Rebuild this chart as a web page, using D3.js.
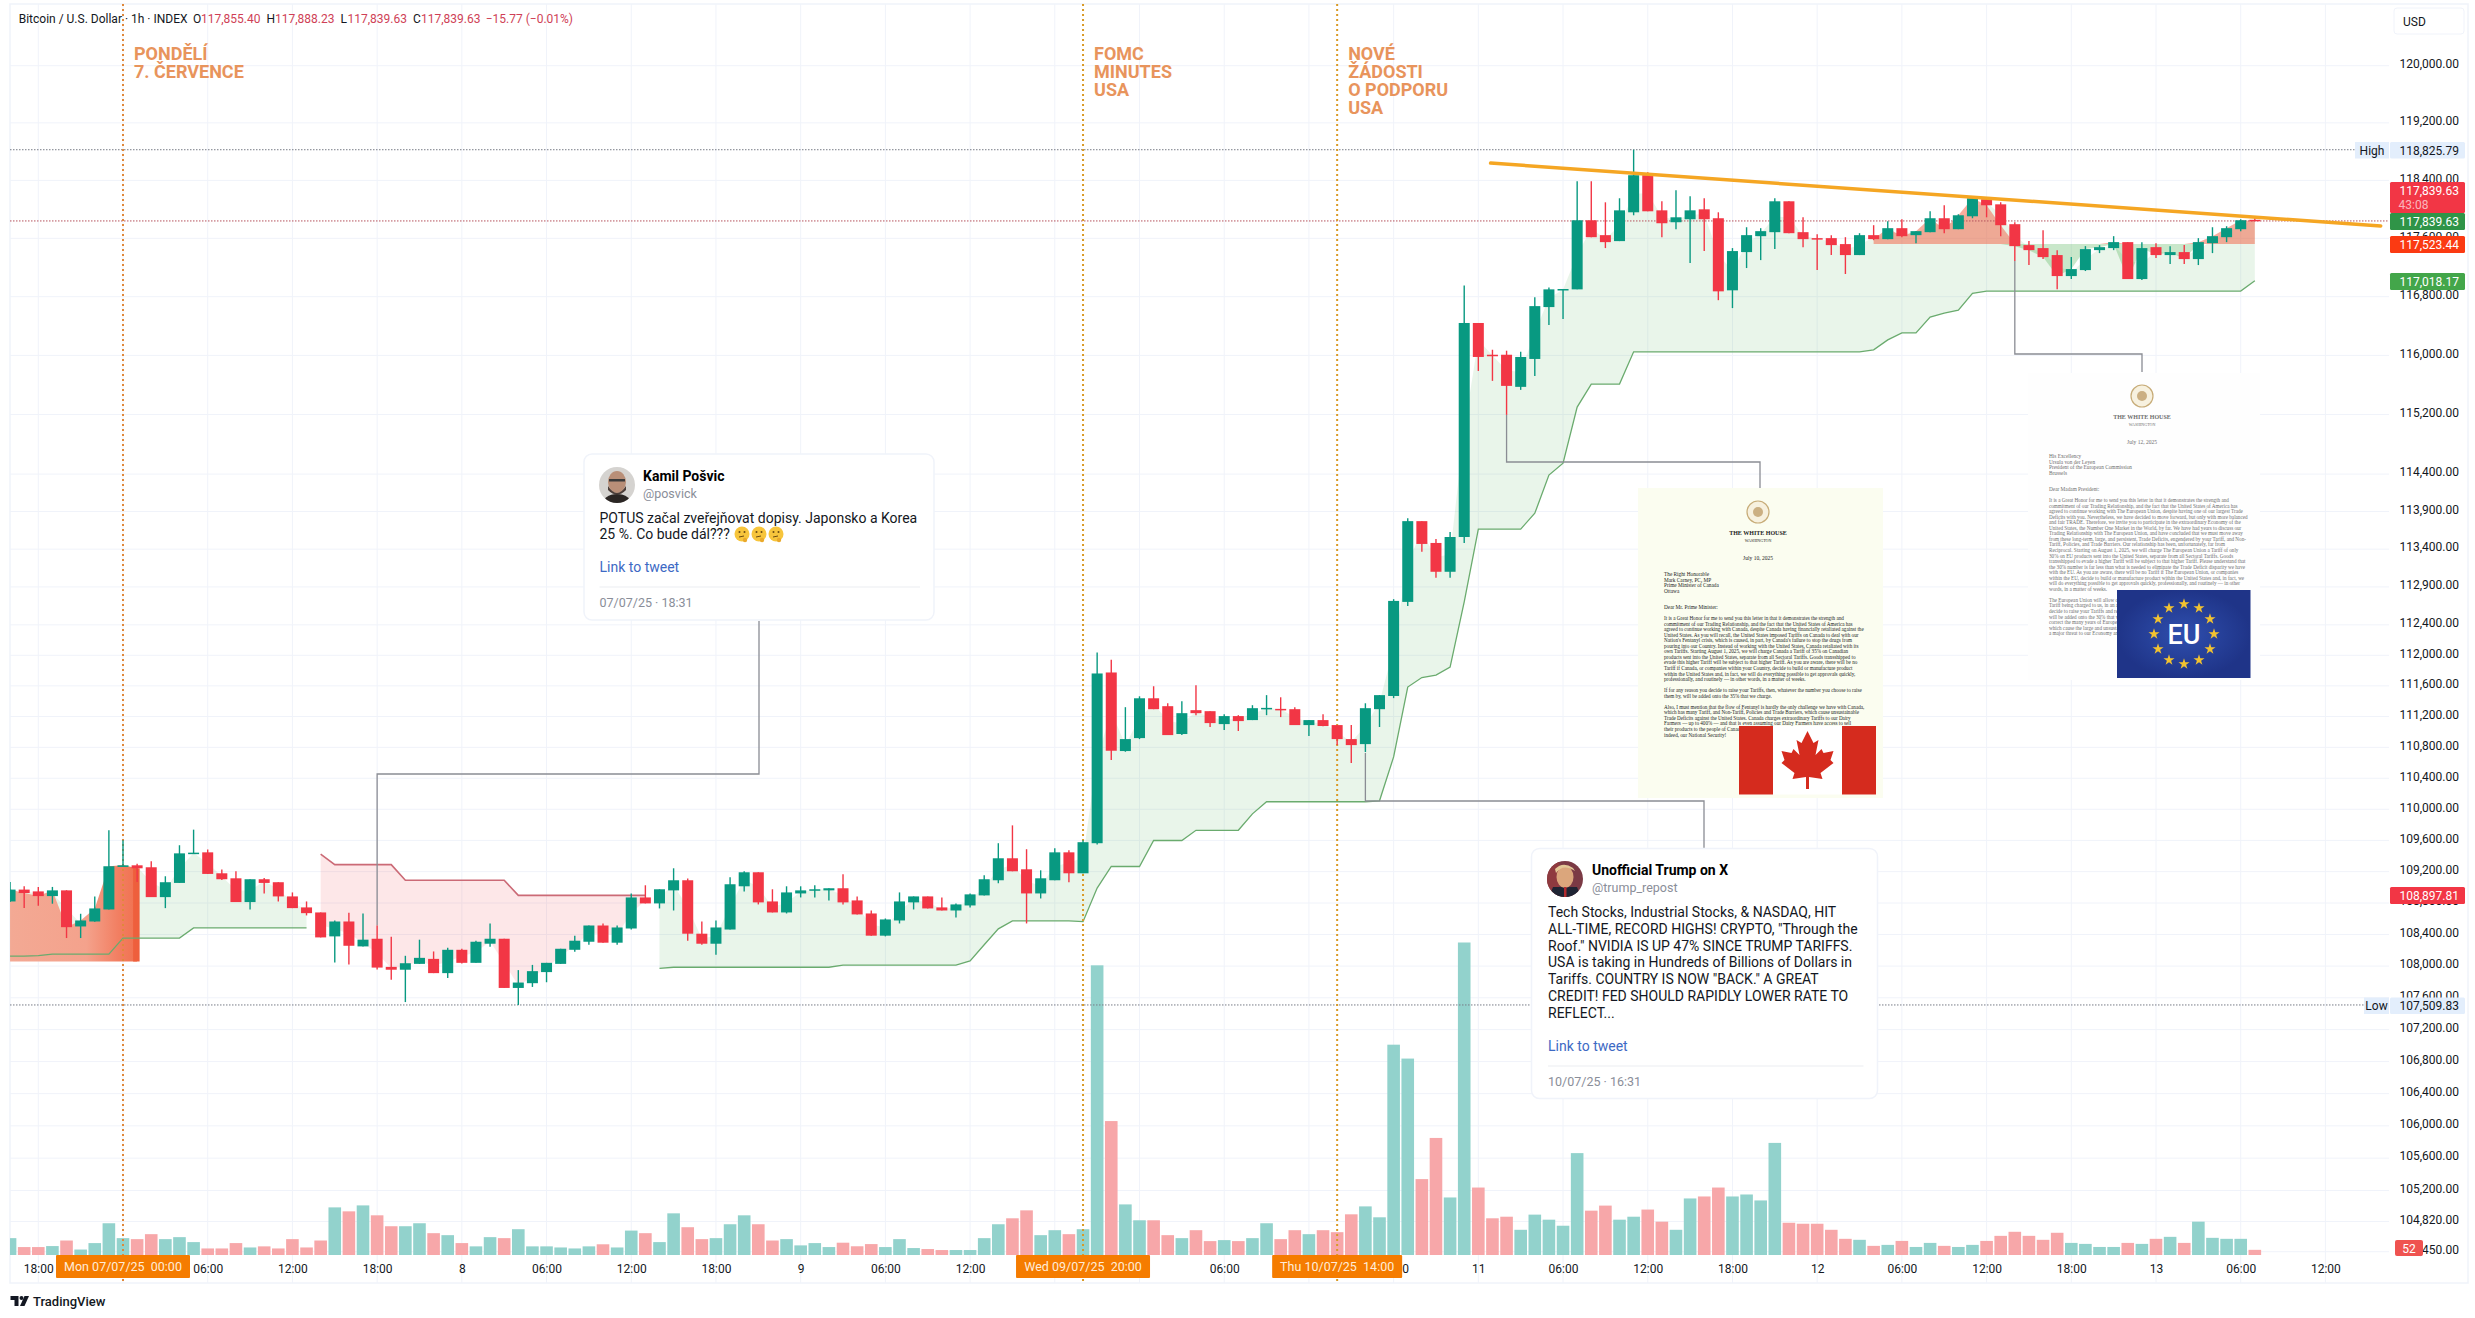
<!DOCTYPE html>
<html>
<head>
<meta charset="utf-8">
<style>
  html, body { margin: 0; padding: 0; background: #ffffff; }
  svg { display: block; }
  text { font-family: Roboto, sans-serif; }
</style>
</head>
<body>
<div id="wrapper"></div>
<script src="https://cdn.jsdelivr.net/npm/d3@7"></script>
<script>
// Bars are hourly, first one is Sun 6 July 16:00 UTC
const firstBar = new Date(Date.UTC(2025, 6, 6, 16))

const opens = [
  108820,108971,108948,108888,108961,108502,108565,108718,109260,109281,
  109256,108875,109056,109434,109447,109179,109115,108812,109103,109065,
  108884,108744,108680,108376,108565,108249,108346,107990,107954,108028,
  108091,107911,108206,108041,108283,108346,107724,107784,107924,108028,
  108206,108308,108514,108296,108476,108871,108795,108961,109090,108410,
  108283,108463,109013,109192,108820,108680,108922,108967,108961,108988,
  108833,108667,108385,108578,108808,108884,108744,108705,108769,108897,
  109090,109371,109230,108922,109090,109447,109179,109564,111775,110752,
  110920,111438,111335,110973,111283,111270,111102,111206,111154,111300,
  111300,111296,111089,111154,111089,110907,110842,111296,111468,112702,
  113772,113482,113100,113561,116441,116009,116009,115574,115952,116658,
  116891,116900,117849,117644,117562,117959,118472,117986,117822,117863,
  118000,117877,116887,117411,117630,117685,118111,117685,117603,117603,
  117521,117370,117644,117589,117740,117644,117685,117877,117726,117904,
  118139,118069,117795,117507,117466,117370,117082,117164,117438,117466,
  117548,117041,117479,117370,117411,117315,117534,117616,117726,117855.40
]
const closes = [
  108971,108927,108888,108961,108493,108578,108731,109269,109281,109243,
  108875,109065,109434,109443,109171,109103,108812,109103,109056,108884,
  108735,108671,108363,108565,108257,108334,107981,107954,108036,108104,
  107911,108206,108041,108308,108346,107724,107792,107936,108041,108219,
  108321,108514,108296,108489,108871,108795,108975,109090,108410,108283,
  108489,109039,109192,108808,108680,108935,108961,108975,108988,108808,
  108655,108385,108591,108820,108884,108731,108705,108782,108910,109103,
  109371,109205,108922,109115,109447,109179,109577,111762,110756,110907,
  111438,111296,110959,111244,111244,111115,111206,111141,111309,111313,
  111287,111089,111154,111077,110907,110829,111309,111479,112715,113772,
  113469,113100,113561,116441,115979,115991,115587,115979,116671,116900,
  116905,117849,117616,117548,117986,118472,117973,117808,117890,117986,
  117863,116873,117425,117644,117699,118111,117671,117589,117589,117507,
  117370,117644,117589,117740,117630,117699,117877,117726,117918,118153,
  118056,117781,117493,117438,117342,117082,117178,117452,117479,117548,
  117041,117466,117370,117411,117315,117548,117630,117740,117849,117839.63
]
const highs = [
  109069,109013,109005,109005,108963,108663,108884,109729,109602,109302,
  109332,109141,109538,109738,109483,109226,109205,109103,109120,109065,
  108935,108820,108680,108578,108676,108667,108514,108372,108130,108334,
  108185,108232,108219,108321,108540,108346,107949,108015,108041,108219,
  108385,108514,108540,108514,108922,109026,108975,109243,109111,108565,
  108578,109128,109205,109192,108975,109013,109013,109026,108988,109167,
  108884,108705,108603,108935,108884,108884,108871,108795,108922,109154,
  109564,109793,109487,109217,109500,109474,109602,112036,111943,111322,
  111464,111595,111373,111399,111608,111270,111231,111218,111348,111479,
  111451,111322,111154,111231,111089,111089,111373,111479,112738,113812,
  113772,113535,113627,116954,116441,116077,116064,116050,116793,116927,
  116905,118389,118389,118097,118153,118825.79,118514,118111,118264,118180,
  118153,117959,117466,117753,117740,118153,118111,117890,117658,117644,
  117616,117671,117781,117836,117863,117699,117973,118056,117932,118180,
  118167,118097,117822,117562,117712,117438,117342,117493,117507,117630,
  117548,117548,117534,117493,117507,117603,117753,117767,117863,117888.23
]
const lows = [
  108813,108735,108765,108791,108355,108355,108563,108718,109260,109069,
  108875,108735,109056,109434,109171,109094,108812,108718,108922,108820,
  108735,108642,108363,108045,108019,108249,107958,107826,107546,108028,
  107911,107851,108032,108041,108245,107724,107509.83,107737,107796,108028,
  108181,108270,108296,108270,108463,108795,108731,108705,108321,108270,
  108143,108463,108948,108782,108680,108667,108871,108871,108833,108782,
  108655,108385,108376,108540,108718,108731,108705,108616,108744,108897,
  109052,109205,108540,108858,109090,109065,109179,109547,110636,110743,
  110907,111296,110959,110959,111218,111064,111025,111012,111154,111218,
  111193,111089,110946,111073,110829,110597,110739,111064,111440,112649,
  113364,113022,113022,113482,115789,115655,115196,115533,115722,116415,
  116495,116900,117616,117466,117562,117918,117973,117616,117726,117260,
  117425,116752,116644,117192,117301,117452,117671,117479,117164,117370,
  117110,117370,117575,117589,117616,117534,117685,117671,117726,117877,
  117890,117630,117288,117233,117315,116900,117041,117151,117397,117438,
  117041,117027,117329,117247,117247,117233,117397,117548,117699,117839.63
]
const volumes = [
  170,80,80,90,146,55,120,320,170,160,
  210,160,180,130,66,66,120,76,87,66,
  160,76,146,480,440,500,400,290,290,320,
  220,200,120,87,180,170,260,87,87,76,
  66,87,108,76,246,220,130,420,280,160,
  170,310,400,310,146,160,97,120,80,124,
  88,110,80,160,70,60,50,50,50,170,
  310,370,450,200,250,210,260,2920,1350,510,
  350,350,200,170,250,140,150,140,170,320,
  160,250,210,250,230,410,490,380,2120,1980,
  765,1180,580,3150,680,370,386,254,407,356,
  295,1027,447,498,356,386,458,336,254,570,
  590,680,590,610,550,1130,325,315,315,254,
  163,153,92,102,142,81,122,92,81,102,
  142,193,234,193,153,224,122,112,81,81,
  122,112,163,183,122,336,173,163,163,52
]

// Supertrend style stop lines, null = not active on that bar
const n = null
const greenBand = [
  108126,108126,108131,108151,108151,108151,108151,108151,108355,108355,
  108355,108355,108355,108484,108484,108484,108484,108484,108484,108484,
  108484,108484,n,n,n,n,n,n,n,n,
  n,n,n,n,n,n,n,n,n,n,
  n,n,n,n,n,n,107972,107985,107985,107985,
  107985,107985,107985,107985,107985,107985,107985,107985,107985,108011,
  108011,108011,108011,108011,108011,108011,108011,108011,108066,108270,
  108472,108573,108573,108573,108573,108573,108563,108991,109266,109266,
  109266,109599,109599,109599,109730,109730,109730,109730,109941,110097,
  110097,110097,110097,110097,110097,110097,110097,110109,110676,111585,
  111709,111741,111845,112702,113666,113666,113666,113666,113877,114387,
  114547,115301,115612,115612,115612,116049,116049,116049,116049,116049,
  116049,116049,116049,116049,116049,116049,116049,116049,116049,116049,
  116049,116049,116076,116211,116305,116305,116522,116576,116616,116846,
  116877,116877,116877,116877,116877,116877,116877,116877,116877,116877,
  116877,116877,116877,116877,116877,116877,116877,116877,116877,117018.17
]
const redBand = [
  n,n,n,n,n,n,n,n,n,n,
  n,n,n,n,n,n,n,n,n,n,
  n,n,109423,109290,109290,109290,109290,109290,109090,109090,
  109090,109090,109090,109090,109090,109090,108897.81,108897.81,108897.81,108897.81,
  108897.81,108897.81,108897.81,108897.81,108897.81,108897.81,n,n,n,n
].concat(new Array(110).fill(n))

// Flat level the salmon / dark green zone is measured against
const leftZoneLevel = 108058
const leftZoneBars = [0, 9]
const rightZoneLevel = 117523.44
const rightZoneBars = [132, 159]

const priceTicks = [
  120000,119200,118400,117600,116800,116000,115200,114400,113900,113400,112900,
  112400,112000,111600,111200,110800,110400,110000,109600,109200,108800,108400,
  108000,107600,107200,106800,106400,106000,105600,105200,104820,104450
]

const eventTimes = [
  new Date(Date.UTC(2025, 6, 7, 0)),
  new Date(Date.UTC(2025, 6, 9, 20)),
  new Date(Date.UTC(2025, 6, 10, 14))
]
const eventLabels = ["Mon 07/07/25\u00a0\u00a000:00", "Wed 09/07/25\u00a0\u00a020:00", "Thu 10/07/25\u00a0\u00a014:00"]
const eventNotes = [
  ["PONDĚLÍ", "7. ČERVENCE"],
  ["FOMC", "MINUTES", "USA"],
  ["NOVÉ", "ŽÁDOSTI", "O PODPORU", "USA"]
]

const highPrice = 118825.79
const lowPrice = 107509.83
const lastPrice = 117839.63

const trendTimes = [new Date(Date.UTC(2025, 6, 11, 0, 52)), new Date(Date.UTC(2025, 6, 13, 15, 55))]
const trendPrices = [118640, 117771]

const kamilLines = ["POTUS začal zveřejňovat dopisy. Japonsko a Korea", "25 %. Co bude dál???"]
const trumpLines = [
  "Tech Stocks, Industrial Stocks, & NASDAQ, HIT",
  "ALL-TIME, RECORD HIGHS! CRYPTO, \"Through the",
  "Roof.\" NVIDIA IS UP 47% SINCE TRUMP TARIFFS.",
  "USA is taking in Hundreds of Billions of Dollars in",
  "Tariffs. COUNTRY IS NOW \"BACK.\" A GREAT",
  "CREDIT! FED SHOULD RAPIDLY LOWER RATE TO",
  "REFLECT..."
]
const canadaAddress = ["The Right Honorable", "Mark Carney, PC, MP", "Prime Minister of Canada", "Ottawa"]
const canadaBody = [
  "It is a Great Honor for me to send you this letter in that it demonstrates the strength and",
  "commitment of our Trading Relationship, and the fact that the United States of America has",
  "agreed to continue working with Canada, despite Canada having financially retaliated against the",
  "United States. As you will recall, the United States imposed Tariffs on Canada to deal with our",
  "Nation's Fentanyl crisis, which is caused, in part, by Canada's failure to stop the drugs from",
  "pouring into our Country. Instead of working with the United States, Canada retaliated with its",
  "own Tariffs. Starting August 1, 2025, we will charge Canada a Tariff of 35% on Canadian",
  "products sent into the United States, separate from all Sectoral Tariffs. Goods transshipped to",
  "evade this higher Tariff will be subject to that higher Tariff. As you are aware, there will be no",
  "Tariff if Canada, or companies within your Country, decide to build or manufacture product",
  "within the United States and, in fact, we will do everything possible to get approvals quickly,",
  "professionally, and routinely — in other words, in a matter of weeks.",
  "",
  "If for any reason you decide to raise your Tariffs, then, whatever the number you choose to raise",
  "them by, will be added onto the 35% that we charge.",
  "",
  "Also, I must mention that the flow of Fentanyl is hardly the only challenge we have with Canada,",
  "which has many Tariff, and Non-Tariff, Policies and Trade Barriers, which cause unsustainable",
  "Trade Deficits against the United States. Canada charges extraordinary Tariffs to our Dairy",
  "Farmers — up to 400% — and that is even assuming our Dairy Farmers have access to sell",
  "their products to the people of Canada. These are a major threat to our Economy and,",
  "indeed, our National Security!"
]
const euAddress = ["His Excellency", "Ursula von der Leyen", "President of the European Commission", "Brussels"]
const euBody = [
  "It is a Great Honor for me to send you this letter in that it demonstrates the strength and",
  "commitment of our Trading Relationship, and the fact that the United States of America has",
  "agreed to continue working with The European Union, despite having one of our largest Trade",
  "Deficits with you. Nevertheless, we have decided to move forward, but only with more balanced",
  "and fair TRADE. Therefore, we invite you to participate in the extraordinary Economy of the",
  "United States, the Number One Market in the World, by far. We have had years to discuss our",
  "Trading Relationship with The European Union, and have concluded that we must move away",
  "from these long-term, large, and persistent, Trade Deficits, engendered by your Tariff, and Non-",
  "Tariff, Policies, and Trade Barriers. Our relationship has been, unfortunately, far from",
  "Reciprocal. Starting on August 1, 2025, we will charge The European Union a Tariff of only",
  "30% on EU products sent into the United States, separate from all Sectoral Tariffs. Goods",
  "transshipped to evade a higher Tariff will be subject to that higher Tariff. Please understand that",
  "the 30% number is far less than what is needed to eliminate the Trade Deficit disparity we have",
  "with the EU. As you are aware, there will be no Tariff if The European Union, or companies",
  "within the EU, decide to build or manufacture product within the United States and, in fact, we",
  "will do everything possible to get approvals quickly, professionally, and routinely — in other",
  "words, in a matter of weeks.",
  "",
  "The European Union will allow complete, open Market Access to the United States, with no",
  "Tariff being charged to us, in an attempt to reduce the large Trade Deficit. If for any reason you",
  "decide to raise your Tariffs and retaliate, then, whatever the number you choose to raise them by,",
  "will be added onto the 30% that we charge. Please understand that these Tariffs are necessary to",
  "correct the many years of European Union Tariff, and Non-Tariff, Policies and Trade Barriers,",
  "which cause the large and unsustainable Trade Deficits against the United States. This Deficit is",
  "a major threat to our Economy and, indeed, our National Security!"
]

function drawChart() {

  const dimensions = {
    width: 2475,
    height: 1318,
    left: 10,
    right: 2389,
    top: 4,
    bottom: 1283,
    axisRight: 2468,
  }
  const green = "#089981"
  const red = "#f23645"
  const gridColor = "#f0f3fa"

  const dataset = opens.map((o, i) => ({
    i,
    time: d3.utcHour.offset(firstBar, i),
    open: o,
    high: highs[i],
    low: lows[i],
    close: closes[i],
    volume: volumes[i],
    mid: (o + closes[i]) / 2,
    green: greenBand[i],
    red: redBand[i],
  }))
  const isUp = d => d.close >= d.open

  const wrapper = d3.select("#wrapper").append("svg")
      .attr("width", dimensions.width)
      .attr("height", dimensions.height)
  wrapper.append("rect")
      .attr("width", dimensions.width)
      .attr("height", dimensions.height)
      .attr("fill", "#ffffff")

  const defs = wrapper.append("defs")
  defs.append("clipPath").attr("id", "plot-clip").append("rect")
      .attr("x", dimensions.left)
      .attr("y", dimensions.top)
      .attr("width", dimensions.right - dimensions.left)
      .attr("height", dimensions.bottom - dimensions.top)

  //Create Scales
  const xScale = d3.scaleUtc()
      .domain([new Date(Date.UTC(2025, 6, 7)), new Date(Date.UTC(2025, 6, 13))])
      .range([123, 2156])
  const yScale = d3.scaleLog()
      .domain([104450, 120000])
      .range([1251.7, 65.7])
  const volumeScale = d3.scaleLinear()
      .domain([0, 3150])
      .range([1255, 942.5])

  //Grid
  const timeTicks = d3.utcHour.every(6).range(
    new Date(Date.UTC(2025, 6, 6, 18)),
    new Date(Date.UTC(2025, 6, 13, 13))
  )
  const grid = wrapper.append("g").attr("stroke", gridColor).attr("stroke-width", 1)
  grid.selectAll(".v").data(timeTicks).enter().append("line")
      .attr("x1", d => xScale(d)).attr("x2", d => xScale(d))
      .attr("y1", dimensions.top).attr("y2", dimensions.bottom)
  grid.selectAll(".h").data(priceTicks).enter().append("line")
      .attr("x1", dimensions.left).attr("x2", dimensions.right)
      .attr("y1", d => yScale(d)).attr("y2", d => yScale(d))

  //Frame
  wrapper.append("rect")
      .attr("x", dimensions.left)
      .attr("y", dimensions.top)
      .attr("width", dimensions.axisRight - dimensions.left)
      .attr("height", dimensions.bottom - dimensions.top)
      .attr("fill", "none")
      .attr("stroke", gridColor)
      .attr("stroke-width", 1.5)

  const plot = wrapper.append("g").attr("clip-path", "url(#plot-clip)")

  //Indicator fills, below the candles
  const bandArea = key => d3.area()
      .defined(d => d[key] !== null)
      .x(d => xScale(d.time))
      .y0(d => yScale(d[key]))
      .y1(d => yScale(d.mid))
  const bandLine = key => d3.line()
      .defined(d => d[key] !== null)
      .x(d => xScale(d.time))
      .y(d => yScale(d[key]))

  plot.append("path").datum(dataset)
      .attr("d", bandArea("green"))
      .attr("fill", "#4caf50").attr("fill-opacity", 0.12)
  plot.append("path").datum(dataset)
      .attr("d", bandArea("red"))
      .attr("fill", red).attr("fill-opacity", 0.12)

  // left zone gets stronger to the right
  const gradient = defs.append("linearGradient")
      .attr("id", "left-zone")
      .attr("gradientUnits", "userSpaceOnUse")
      .attr("x1", xScale(dataset[leftZoneBars[0]].time)).attr("x2", xScale(dataset[leftZoneBars[1]].time))
      .attr("y1", 0).attr("y2", 0)
  gradient.append("stop").attr("offset", "0%").attr("stop-color", "#f3a994")
  gradient.append("stop").attr("offset", "60%").attr("stop-color", "#f4a28c")
  gradient.append("stop").attr("offset", "85%").attr("stop-color", "#f27f62")
  gradient.append("stop").attr("offset", "100%").attr("stop-color", "#f0714f")

  const leftBars = dataset.slice(leftZoneBars[0], leftZoneBars[1] + 1)
  plot.append("path").datum(leftBars)
      .attr("d", d3.area()
        .x(d => xScale(d.time))
        .y0(yScale(leftZoneLevel))
        .y1(d => yScale(Math.max(d.close, leftZoneLevel))))
      .attr("fill", "url(#left-zone)")
  // darker strip on the last bar of the left zone
  const lastLeft = leftBars[leftBars.length - 1]
  plot.append("rect")
      .attr("x", xScale(lastLeft.time) - 4)
      .attr("y", yScale(lastLeft.close))
      .attr("width", 6.5)
      .attr("height", yScale(leftZoneLevel) - yScale(lastLeft.close))
      .attr("fill", "#ee5f3c")

  const rightBars = dataset.slice(rightZoneBars[0], rightZoneBars[1] + 1)
  plot.append("path").datum(rightBars)
      .attr("d", d3.area()
        .x(d => xScale(d.time))
        .y0(yScale(rightZoneLevel))
        .y1(d => yScale(Math.max(d.close, rightZoneLevel))))
      .attr("fill", "#f26a4f").attr("fill-opacity", 0.55)
  plot.append("path").datum(rightBars)
      .attr("d", d3.area()
        .x(d => xScale(d.time))
        .y0(yScale(rightZoneLevel))
        .y1(d => yScale(Math.min(d.close, rightZoneLevel))))
      .attr("fill", "#4caf50").attr("fill-opacity", 0.3)

  plot.append("path").datum(dataset)
      .attr("d", bandLine("green"))
      .attr("fill", "none").attr("stroke", "#6aab6e").attr("stroke-width", 1.3)
  plot.append("path").datum(dataset)
      .attr("d", bandLine("red"))
      .attr("fill", "none").attr("stroke", "#cb6a76").attr("stroke-width", 1.6)

  //Volume
  const barWidth = 12.6
  plot.selectAll(".volume")
      .data(dataset).enter().append("rect")
        .attr("class", "volume")
        .attr("x", d => xScale(d.time) - barWidth / 2)
        .attr("y", d => volumeScale(d.volume))
        .attr("width", barWidth)
        .attr("height", d => volumeScale(0) - volumeScale(d.volume))
        .attr("fill", d => isUp(d) ? "#92d2cc" : "#f7a7a9")

  //Dotted levels
  const levels = [
    {price: highPrice, end: 2355, color: "#787b86"},
    {price: lowPrice, end: 2364, color: "#787b86"},
    {price: lastPrice, end: 2390, color: "#b5515c"},
  ]
  plot.selectAll(".level")
      .data(levels).enter().append("line")
        .attr("x1", dimensions.left).attr("x2", d => d.end)
        .attr("y1", d => yScale(d.price)).attr("y2", d => yScale(d.price))
        .attr("stroke", d => d.color)
        .attr("stroke-width", 1)
        .attr("stroke-dasharray", "1.5,1.5")

  //Event lines
  const eventColors = ["#e0883a", "#d99a26", "#d99a26"]
  plot.selectAll(".event")
      .data(eventTimes).enter().append("line")
        .attr("x1", d => xScale(d)).attr("x2", d => xScale(d))
        .attr("y1", dimensions.top).attr("y2", dimensions.bottom)
        .attr("stroke", (d, i) => eventColors[i])
        .attr("stroke-width", 2)
        .attr("stroke-dasharray", "2,3")

  //Connector lines from the cards to their bars
  const anchorX = i => xScale(dataset[i].time)
  const connectors = [
    [[759, 621], [759, 774], [anchorX(26), 774], [anchorX(26), yScale(highs[26])]],
    [[1704, 850], [1704, 801], [anchorX(96), 801], [anchorX(96), yScale(lows[96]) + 1]],
    [[1760, 488], [1760, 462], [anchorX(106), 462], [anchorX(106), yScale(lows[106])]],
    [[2142, 372], [2142, 354], [anchorX(142), 354], [anchorX(142), yScale(lows[142])]],
  ]
  plot.selectAll(".connector")
      .data(connectors).enter().append("path")
        .attr("d", d3.line())
        .attr("fill", "none")
        .attr("stroke", "#8a8d94")
        .attr("stroke-width", 1.3)

  //Candles
  const candles = plot.selectAll(".candle")
      .data(dataset).enter().append("g")
        .attr("class", "candle")
  candles.append("line")
      .attr("x1", d => xScale(d.time)).attr("x2", d => xScale(d.time))
      .attr("y1", d => yScale(d.high)).attr("y2", d => yScale(d.low))
      .attr("stroke", d => isUp(d) ? green : red)
      .attr("stroke-width", 1.4)
  candles.append("rect")
      .attr("x", d => xScale(d.time) - 5.5)
      .attr("y", d => yScale(Math.max(d.open, d.close)))
      .attr("width", 11)
      .attr("height", d => Math.max(1.5, Math.abs(yScale(d.open) - yScale(d.close))))
      .attr("fill", d => isUp(d) ? green : red)

  //Trend line
  wrapper.append("line")
      .attr("x1", xScale(trendTimes[0])).attr("y1", yScale(trendPrices[0]))
      .attr("x2", xScale(trendTimes[1])).attr("y2", yScale(trendPrices[1]))
      .attr("stroke", "#f5a623")
      .attr("stroke-width", 3.5)
      .attr("stroke-linecap", "round")

  //Price axis, labels sit 2px over their grid line
  const priceAxis = wrapper.append("g")
      .attr("transform", "translate(2459,-2)")
      .call(d3.axisRight(yScale).tickValues(priceTicks).tickSize(0).tickFormat(d3.format(",.2f")))
  priceAxis.select(".domain").remove()
  priceAxis.selectAll("text")
      .attr("x", 0)
      .attr("text-anchor", "end")
      .attr("fill", "#131722")
      .style("font-size", "12px")
      .style("font-family", "Roboto, sans-serif")

  //Time axis, labels fully under an orange date box are left out
  const boxWidths = [134, 134, 130]
  const isDay = d => d.getUTCHours() === 0
  const hiddenByBox = d => eventTimes.some((e, i) =>
    Math.abs(xScale(d) - xScale(e)) + (isDay(d) ? 7 : 15) < boxWidths[i] / 2)
  const timeAxis = wrapper.append("g")
      .attr("transform", "translate(0,1261.3)")
      .call(d3.axisBottom(xScale).tickValues(timeTicks.filter(d => !hiddenByBox(d))).tickSize(0)
        .tickFormat(d => isDay(d) ? d3.utcFormat("%-d")(d) : d3.utcFormat("%H:%M")(d)))
  timeAxis.select(".domain").remove()
  timeAxis.selectAll("text")
      .attr("fill", "#131722")
      .style("font-size", "12px")
      .style("font-family", "Roboto, sans-serif")

  //Orange date labels on the time axis
  const dateBoxes = wrapper.selectAll(".date-box")
      .data(eventTimes).enter().append("g")
        .attr("transform", d => `translate(${xScale(d)},1255)`)
  dateBoxes.append("rect")
      .attr("x", (d, i) => -boxWidths[i] / 2)
      .attr("width", (d, i) => boxWidths[i])
      .attr("height", 23)
      .attr("rx", 1)
      .attr("fill", "#f57c00")
  dateBoxes.append("text")
      .attr("y", 16)
      .attr("text-anchor", "middle")
      .attr("fill", "#ffecd9")
      .attr("font-size", 12.5)
      .text((d, i) => eventLabels[i])

  //Notes at the top of the event lines
  const notes = wrapper.selectAll(".note")
      .data(eventTimes).enter().append("text")
        .attr("fill", "#e8945c")
        .attr("font-size", 18)
        .attr("font-weight", 700)
  notes.selectAll("tspan")
      .data((d, i) => eventNotes[i].map(line => ({line, x: xScale(d) + 11})))
      .enter().append("tspan")
        .attr("x", d => d.x)
        .attr("y", (d, j) => 60 + j * 18)
        .text(d => d.line)

  //Legend line
  const legendParts = [
    {x: 18.7, text: "Bitcoin / U.S. Dollar · 1h · INDEX", color: "#131722"},
    {x: 193, text: "O", color: "#131722"},
    {x: 201, text: "117,855.40", color: "#cf3f56"},
    {x: 266.5, text: "H", color: "#131722"},
    {x: 275, text: "117,888.23", color: "#cf3f56"},
    {x: 340.6, text: "L", color: "#131722"},
    {x: 347.5, text: "117,839.63", color: "#cf3f56"},
    {x: 413, text: "C", color: "#131722"},
    {x: 421, text: "117,839.63", color: "#cf3f56"},
    {x: 485.7, text: "−15.77 (−0.01%)", color: "#cf3f56"},
  ]
  wrapper.selectAll(".legend")
      .data(legendParts).enter().append("text")
        .attr("x", d => d.x)
        .attr("y", 23)
        .attr("font-size", 12)
        .attr("fill", d => d.color)
        .text(d => d.text)

  //USD button
  wrapper.append("rect")
      .attr("x", 2394).attr("y", 8).attr("width", 70).attr("height", 26).attr("rx", 3)
      .attr("fill", "#ffffff").attr("stroke", gridColor)
  wrapper.append("text")
      .attr("x", 2403).attr("y", 26)
      .attr("font-size", 12).attr("fill", "#131722")
      .text("USD")

  //Price tags on the axis
  const fmt = d3.format(",.2f")
  const tags = [
    {top: 142, h: 16.5, fill: "#e3eefc", color: "#131722", text: fmt(highPrice)},
    {top: 997.5, h: 16.5, fill: "#e3eefc", color: "#131722", text: fmt(lowPrice)},
    {top: 182, h: 31, fill: red, color: "#ffffff", text: fmt(lastPrice), sub: "43:08"},
    {top: 213, h: 17, fill: "#2f9447", color: "#ffffff", text: fmt(lastPrice)},
    {top: 236, h: 17, fill: "#fb3a12", color: "#ffffff", text: fmt(rightZoneLevel)},
    {top: 273, h: 17, fill: "#43a64a", color: "#ffffff", text: fmt(greenBand[159])},
    {top: 887, h: 17, fill: red, color: "#ffffff", text: fmt(redBand[45])},
  ]
  tags.forEach(tag => {
    wrapper.append("rect")
        .attr("x", 2390).attr("y", tag.top).attr("width", 75).attr("height", tag.h)
        .attr("rx", 1.5).attr("fill", tag.fill)
    wrapper.append("text")
        .attr("x", 2459).attr("y", tag.top + 12.5)
        .attr("text-anchor", "end").attr("font-size", 12).attr("fill", tag.color)
        .text(tag.text)
    if (tag.sub) {
      wrapper.append("text")
          .attr("x", 2398.5).attr("y", tag.top + 27)
          .attr("font-size", 12).attr("fill", "#ffffff").attr("fill-opacity", 0.65)
          .text(tag.sub)
    }
  })
  const sideTags = [
    {x: 2355, w: 34, top: 142, text: "High"},
    {x: 2364, w: 25, top: 997.5, text: "Low"},
  ]
  sideTags.forEach(tag => {
    wrapper.append("rect")
        .attr("x", tag.x).attr("y", tag.top).attr("width", tag.w).attr("height", 16.5)
        .attr("fill", "#e3eefc")
    wrapper.append("text")
        .attr("x", tag.x + tag.w / 2).attr("y", tag.top + 12.5)
        .attr("text-anchor", "middle").attr("font-size", 12).attr("fill", "#131722")
        .text(tag.text)
  })
  wrapper.append("rect")
      .attr("x", 2395).attr("y", 1240).attr("width", 28).attr("height", 16)
      .attr("rx", 2).attr("fill", "#ef5350")
  wrapper.append("text")
      .attr("x", 2409).attr("y", 1252.5)
      .attr("text-anchor", "middle").attr("font-size", 12).attr("fill", "#ffffff")
      .text(volumes[159])

  //Tweet cards
  function drawCard(c) {
    const card = wrapper.append("g")
    card.append("rect")
        .attr("x", c.x).attr("y", c.y).attr("width", c.w).attr("height", c.h).attr("rx", 8)
        .attr("fill", "#ffffff").attr("stroke", "#f0f3fa").attr("stroke-width", 1.5)
    card.append("text")
        .attr("x", c.nameX).attr("y", c.nameY)
        .attr("font-size", 14).attr("font-weight", 700).attr("fill", "#000000")
        .text(c.name)
    card.append("text")
        .attr("x", c.nameX).attr("y", c.nameY + 16.5)
        .attr("font-size", 12.5).attr("fill", "#8a8e99")
        .text(c.handle)
    card.selectAll(".line").data(c.lines).enter().append("text")
        .attr("x", c.textX)
        .attr("y", (d, i) => c.textY + i * c.lineH)
        .attr("font-size", 14).attr("fill", "#131722")
        .text(d => d)
    card.append("text")
        .attr("x", c.textX).attr("y", c.linkY)
        .attr("font-size", 14).attr("fill", "#3d69c4")
        .text("Link to tweet")
    card.append("line")
        .attr("x1", c.textX).attr("x2", c.x + c.w - 14)
        .attr("y1", c.linkY + 15).attr("y2", c.linkY + 15)
        .attr("stroke", "#eceef2").attr("stroke-width", 1.2)
    card.append("text")
        .attr("x", c.textX).attr("y", c.linkY + 35)
        .attr("font-size", 12.5).attr("fill", "#8a8e99")
        .text(c.date)
  }
  drawCard({
    x: 584, y: 454, w: 350, h: 166,
    nameX: 643, nameY: 481, name: "Kamil Pošvic", handle: "@posvick",
    textX: 599.5, textY: 522.5, lineH: 16.6, lines: kamilLines,
    linkY: 572, date: "07/07/25 · 18:31",
  })
  drawCard({
    x: 1531.5, y: 848.5, w: 346, h: 250,
    nameX: 1592, nameY: 875, name: "Unofficial Trump on X", handle: "@trump_repost",
    textX: 1548, textY: 917, lineH: 16.8, lines: trumpLines,
    linkY: 1051, date: "10/07/25 · 16:31",
  })

  // thinking faces after the Kamil text
  const faceX = [742, 759, 776]
  faceX.forEach(x => {
    const face = wrapper.append("g").attr("transform", `translate(${x},534)`)
    face.append("circle").attr("r", 7.5).attr("fill", "#f7c53c")
    face.append("circle").attr("cx", -2.5).attr("cy", -2).attr("r", 1).attr("fill", "#6b4a12")
    face.append("circle").attr("cx", 2.5).attr("cy", -2).attr("r", 1).attr("fill", "#6b4a12")
    face.append("path").attr("d", "M-3,3 L2,2").attr("stroke", "#6b4a12").attr("fill", "none")
    face.append("circle").attr("cx", 3).attr("cy", 6).attr("r", 2.2).attr("fill", "#eaa92b")
  })

  //Avatars
  defs.append("clipPath").attr("id", "kamil-clip").append("circle").attr("cx", 617).attr("cy", 485).attr("r", 18)
  defs.append("clipPath").attr("id", "trump-clip").append("circle").attr("cx", 1568).attr("cy", 880).attr("r", 18)
  const kamil = wrapper.append("g").attr("clip-path", "url(#kamil-clip)")
  kamil.append("rect").attr("x", 599).attr("y", 467).attr("width", 36).attr("height", 36).attr("fill", "#d5d3d0")
  kamil.append("ellipse").attr("cx", 617).attr("cy", 505).attr("rx", 15).attr("ry", 11).attr("fill", "#2b2624")
  kamil.append("ellipse").attr("cx", 617).attr("cy", 482).attr("rx", 9).attr("ry", 11).attr("fill", "#b98f78")
  kamil.append("path").attr("d", "M608,486 Q617,500 626,486 L626,490 Q617,499 608,490 Z").attr("fill", "#4b3d38")
  kamil.append("rect").attr("x", 609).attr("y", 479).attr("width", 16).attr("height", 2.5).attr("fill", "#3a3a3a")

  const trumpShift = wrapper.append("g").attr("transform", "translate(-3,-1)")
  const trump = trumpShift.append("g").attr("clip-path", "url(#trump-clip)")
  trump.append("rect").attr("x", 1550).attr("y", 862).attr("width", 36).attr("height", 36).attr("fill", "#7b3a45")
  trump.append("rect").attr("x", 1550).attr("y", 862).attr("width", 12).attr("height", 36).attr("fill", "#8f3a3f")
  trump.append("path").attr("d", "M1552,898 L1556,888 L1580,888 L1584,898 Z").attr("fill", "#1f2433")
  trump.append("ellipse").attr("cx", 1568).attr("cy", 878).attr("rx", 8.5).attr("ry", 11).attr("fill", "#dba67c")
  trump.append("path").attr("d", "M1559,874 Q1566,864 1578,872 L1576,869 Q1566,862 1558,870 Z").attr("fill", "#e3c897")
  trump.append("rect").attr("x", 1567).attr("y", 888).attr("width", 2.5).attr("height", 10).attr("fill", "#b12a2e")

  //Scanned letters
  function drawLetter(l) {
    const letter = wrapper.append("g")
    letter.append("rect")
        .attr("x", l.x).attr("y", l.y).attr("width", l.w).attr("height", l.h)
        .attr("fill", l.paper)
    letter.append("circle")
        .attr("cx", l.cx).attr("cy", l.y + l.sealY).attr("r", 11)
        .attr("fill", "#f7f1df").attr("stroke", "#c7ac78").attr("stroke-width", 1.2)
    letter.append("circle")
        .attr("cx", l.cx).attr("cy", l.y + l.sealY).attr("r", 5)
        .attr("fill", "#b8935a").attr("fill-opacity", 0.7)
    const serif = sel => sel.style("font-family", "'Liberation Serif', serif").attr("fill", l.ink)
    letter.append("text").call(serif)
        .attr("x", l.cx).attr("y", l.y + l.sealY + 23)
        .attr("text-anchor", "middle").attr("font-size", 6).attr("font-weight", 700)
        .text("THE WHITE HOUSE")
    letter.append("text").call(serif)
        .attr("x", l.cx).attr("y", l.y + l.sealY + 30)
        .attr("text-anchor", "middle").attr("font-size", 4)
        .text("WASHINGTON")
    letter.append("text").call(serif)
        .attr("x", l.cx).attr("y", l.y + l.sealY + 48)
        .attr("text-anchor", "middle").attr("font-size", 5.5)
        .text(l.dateText)
    letter.selectAll(".addr").data(l.address).enter().append("text").call(serif)
        .attr("x", l.textX)
        .attr("y", (d, i) => l.y + l.addrY + i * 5.6)
        .attr("font-size", 5.3)
        .text(d => d)
    letter.append("text").call(serif)
        .attr("x", l.textX).attr("y", l.y + l.addrY + 33)
        .attr("font-size", 5.3)
        .text(l.dear)
    letter.selectAll(".body").data(l.body).enter().append("text").call(serif)
        .attr("x", l.textX)
        .attr("y", (d, i) => l.y + l.addrY + 44 + i * 5.55)
        .attr("font-size", 5.15)
        .text(d => d)
  }
  drawLetter({
    x: 1638, y: 488, w: 245, h: 310, paper: "#fbfdf0", ink: "#22241c",
    cx: 1758, sealY: 24, dateText: "July 10, 2025",
    textX: 1664, addrY: 88, address: canadaAddress, dear: "Dear Mr. Prime Minister:", body: canadaBody,
  })
  drawLetter({
    x: 2028, y: 373, w: 232, h: 307, paper: "#fefefe", ink: "#6e6e6e",
    cx: 2142, sealY: 23, dateText: "July 12, 2025",
    textX: 2049, addrY: 85, address: euAddress, dear: "Dear Madam President:", body: euBody,
  })

  //Canada flag
  const canada = wrapper.append("g").attr("transform", "translate(1739,726)")
  canada.append("rect").attr("width", 137).attr("height", 68.5).attr("fill", "#ffffff")
  canada.append("rect").attr("width", 34).attr("height", 68.5).attr("fill", "#d52b1e")
  canada.append("rect").attr("x", 103).attr("width", 34).attr("height", 68.5).attr("fill", "#d52b1e")
  const leaf = [
    [0,-29],[-6,-17],[-11,-20],[-8,-5],[-14,-11],[-16,-7],[-26,-9],[-23,0],[-26,3],[-13,13],[-15,19],
    [-1.5,17],[-1.5,29],[1.5,29],[1.5,17],[15,19],[13,13],[26,3],[23,0],[26,-9],[16,-7],[14,-11],[8,-5],[11,-20],[6,-17]
  ]
  canada.append("path")
      .attr("transform", "translate(68.5,34)")
      .attr("d", d3.line().curve(d3.curveLinearClosed)(leaf))
      .attr("fill", "#d52b1e")

  //EU flag
  const eu = wrapper.append("g").attr("transform", "translate(2117,590)")
  const euGradient = defs.append("radialGradient").attr("id", "eu-blue")
  euGradient.append("stop").attr("offset", "0%").attr("stop-color", "#2f4fae")
  euGradient.append("stop").attr("offset", "100%").attr("stop-color", "#1f3488")
  eu.append("rect").attr("width", 133.5).attr("height", 88).attr("fill", "url(#eu-blue)")
  const star = d3.symbol().type(d3.symbolStar).size(38)
  eu.selectAll(".star").data(d3.range(12)).enter().append("path")
      .attr("d", star)
      .attr("transform", d => {
        const a = d * Math.PI / 6
        return `translate(${67 + 30 * Math.sin(a)},${44 - 30 * Math.cos(a)})`
      })
      .attr("fill", "#f2c230")
  eu.append("text")
      .attr("x", 67).attr("y", 54)
      .attr("text-anchor", "middle")
      .attr("font-size", 27).attr("font-weight", 500).attr("fill", "#ffffff")
      .text("EU")

  //Footer logo
  const logo = wrapper.append("g").attr("transform", "translate(10.5,1296)").attr("fill", "#131722")
  logo.append("path").attr("d", "M0,0 H8 V10 H4 V4 H0 Z")
  logo.append("circle").attr("cx", 11).attr("cy", 2).attr("r", 2)
  logo.append("path").attr("d", "M14,0 H18.5 L14,10 H9.5 Z")
  wrapper.append("text")
      .attr("x", 33).attr("y", 1306)
      .attr("font-size", 13).attr("font-weight", 500).attr("fill", "#131722")
      .text("TradingView")
}
drawChart()
</script>
</body>
</html>
